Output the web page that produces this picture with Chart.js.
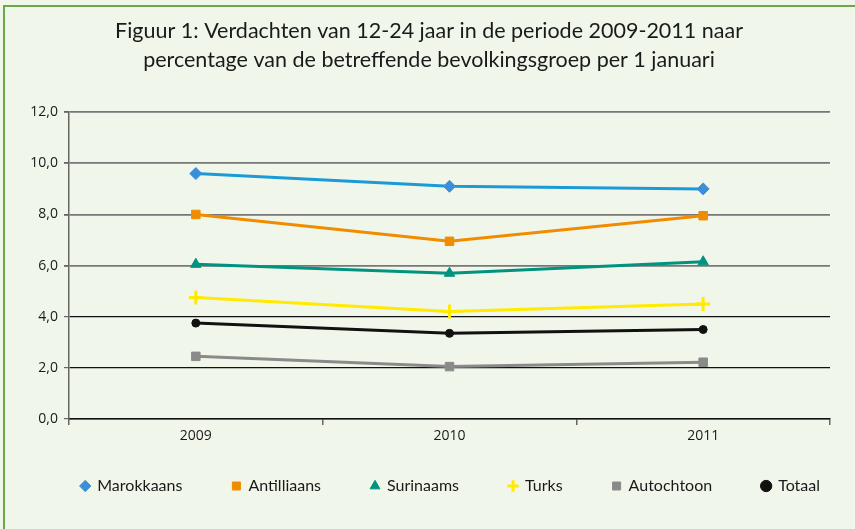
<!DOCTYPE html>
<html>
<head>
<meta charset="utf-8">
<script src="https://cdn.jsdelivr.net/npm/chart.js@4"></script>
<style>
  body { margin: 0; background: #f1f6ea; }
  #frame { position: absolute; left: 3px; top: 5px; width: 870px; height: 540px; border: 2px solid #6aa84a; box-sizing: border-box; }
  #wrap { position: absolute; left: 0; top: 0; width: 855px; height: 529px; }
</style>
</head>
<body>
<div id="frame"></div>
<div id="wrap"><canvas id="grafico"></canvas></div>
<script>
// jaren en percentages
const jaren = ['2009', '2010', '2011'];
const marokkaans = [9.6, 9.1, 9.0];
const antilliaans = [8.0, 6.95, 7.95];
const surinaams = [6.05, 5.7, 6.15];
const turks = [4.75, 4.2, 4.5];
const autochtoon = [2.45, 2.05, 2.22];
const totaal = [3.75, 3.35, 3.5];

function serie(label, data, kleur, lijn, stijl, r) {
  return {
    label: label,
    data: data,
    borderColor: lijn,
    backgroundColor: kleur,
    pointBackgroundColor: kleur,
    pointBorderColor: kleur,
    pointStyle: stijl,
    pointRadius: r,
    pointBorderWidth: stijl === 'cross' ? 3 : 1,
    borderWidth: 3,
    tension: 0
  };
}

const ctx = document.getElementById('grafico');

new Chart(ctx, {
  type: 'line',
  data: {
    labels: jaren,
    datasets: [
      serie('Marokkaans', marokkaans, '#3a8fd8', '#1a9bd8', 'rectRot', 6),
      serie('Antilliaans', antilliaans, '#f08c00', '#f08c00', 'rect', 6),
      serie('Surinaams', surinaams, '#00937f', '#00937f', 'triangle', 6),
      serie('Turks', turks, '#ffea00', '#ffea00', 'cross', 7),
      serie('Autochtoon', autochtoon, '#8a8a8a', '#8a8a8a', 'rect', 6),
      serie('Totaal', totaal, '#111111', '#111111', 'circle', 4)
    ]
  },
  options: {
    responsive: true,
    maintainAspectRatio: false,
    animation: false,
    layout: { padding: { left: 28, right: 25, top: 7, bottom: 25 } },
    plugins: {
      title: {
        display: true,
        text: ['Figuur 1: Verdachten van 12-24 jaar in de periode 2009-2011 naar',
               'percentage van de betreffende bevolkingsgroep per 1 januari'],
        color: '#1a1a1a',
        font: { family: 'Lato', size: 21.5, weight: 'normal', lineHeight: 1.33 },
        padding: { top: 10, bottom: 38 }
      },
      legend: {
        position: 'bottom',
        align: 'end',
        labels: {
          usePointStyle: true,
          boxWidth: 8,
          boxHeight: 8,
          padding: 10,
          color: '#1a1a1a',
          font: { family: 'Lato', size: 16 },
          // extra ruimte tussen de items
          generateLabels: chart => {
            const items = Chart.defaults.plugins.legend.labels.generateLabels(chart);
            items.forEach((it, i) => {
              if (i < items.length - 1) it.text = it.text + '\u2002\u2002\u2002\u2002\u2002';
            });
            return items;
          }
        }
      },
      tooltip: { enabled: false }
    },
    scales: {
      x: {
        offset: true,
        afterFit: s => { s.height = 49; },
        grid: {
          offset: true,
          drawOnChartArea: true,
          color: c => c.index === 3 ? '#333333' : 'rgba(0,0,0,0)',
          tickColor: '#666666',
          tickLength: 6,
          lineWidth: 1.5
        },
        border: { color: '#111111', width: 1.5 },
        ticks: { color: '#1a1a1a', font: { family: 'Open Sans', size: 14 }, padding: 3 }
      },
      y: {
        min: 0,
        max: 12,
        afterFit: s => { s.width = 41; },
        ticks: {
          stepSize: 2,
          color: '#1a1a1a',
          font: { family: 'Open Sans', size: 14 },
          padding: 6,
          callback: v => v.toFixed(1).replace('.', ',')
        },
        grid: {
          color: c => c.tick && c.tick.value <= 4 ? '#111111' : '#777777',
          lineWidth: c => c.tick && c.tick.value <= 4 ? 1.2 : 1.8,
          tickLength: 5,
          tickColor: '#666666'
        },
        border: { color: '#666666', width: 1.5 }
      }
    }
  }
});
</script>
</body>
</html>
